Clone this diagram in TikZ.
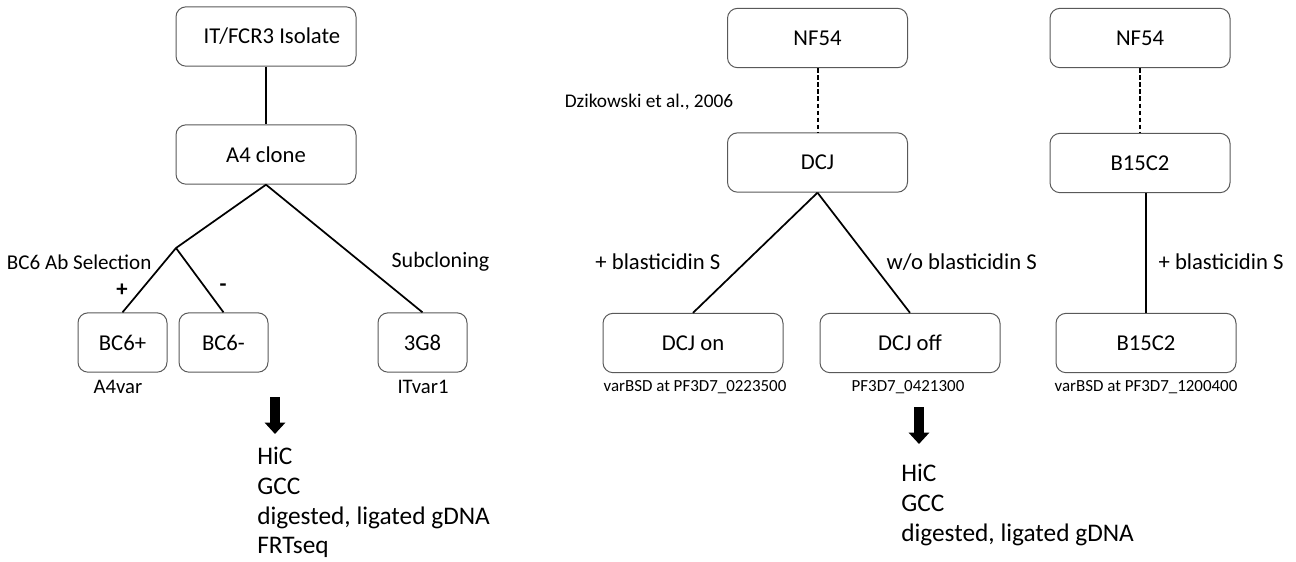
\documentclass[tikz,border=0pt]{standalone}
\usepackage{fontspec}
\setmainfont{Carlito}
\usepackage{tikz}
\usetikzlibrary{arrows.meta, positioning, calc}
\tikzset{
    auto, semithick,
    box/.style ={rectangle, rounded corners=7.5pt, draw=black!65, line width=0.75pt,
                 minimum width=135pt, minimum height=44.5pt, inner sep=2pt,
                 font=\fontsize{17}{20}\selectfont},
    smallbox/.style ={box, minimum width=66.75pt},
    el/.style = {inner sep=1pt, font=\fontsize{17}{20}\selectfont},
    note/.style = {inner sep=1pt, font=\fontsize{12.7}{15}\selectfont},
    tag/.style = {inner sep=1pt, font=\fontsize{15.5}{18}\selectfont},
    assays/.style = {inner sep=0pt, align=left, anchor=north west,
                     font=\fontsize{19}{22.3}\selectfont},
    link/.style = {line width=1.3pt},
    dashlink/.style = {line width=1.5pt, dash pattern=on 3.5pt off 1.8pt},
    bigarrow/.style = {line width=8pt, -{Triangle[length=8.5pt, width=15pt]}}
    }

\begin{document}
\begin{tikzpicture}[x=0.75pt, y=-0.75pt]
    \useasboundingbox (0,0) rectangle (1296,561);

    % A4 lineage
    \node[box] (1) at (266,36.5) {\hspace*{9pt}IT/FCR3 Isolate};
    \node[box] (2) at (266,154.5) {A4 clone};
    \coordinate (j) at (176,248);
    \node[smallbox] (3) at (122.5,342.5) {BC6+};
    \node[smallbox] (4) at (223.5,342.5) {BC6-};
    \node[smallbox] (5) at (422.5,342.5) {3G8};

    \path[link] (1) edge (2);
    \draw[link] (2.south) -- (j) -- (3.north);
    \draw[link] (j) -- (4.north);
    \draw[link] (2.south) -- (5.north);

    \node[el, anchor=east, font=\fontsize{15.8}{19}\selectfont] at (153,262) {BC6 Ab Selection};
    \node[el, anchor=west, font=\fontsize{16.5}{19}\selectfont] at (390,262) {Subcloning};
    \node[el] at (122,290) {\textbf{+}};
    \node[el] at (223,288) {\textbf{-}};
    \node[tag] at (118,387) {A4var};
    \node[tag] at (423,387) {ITvar1};

    \coordinate (a1) at (275,397);
    \coordinate (a2) at (275,434);
    \draw[bigarrow] (a1) -- (a2);
    \node[assays] (l1) at (257,447) {HiC\\GCC\\digested, ligated gDNA\\FRTseq};

    % NF54 lines
    \node[box] (6) at (817.5,38) {NF54};
    \node[box] (7) at (817.5,162.5) {DCJ};
    \node[box] (8) at (693,343) {DCJ on};
    \node[box] (9) at (910,343) {DCJ off};

    \path[dashlink] (6) edge (7);
    \draw[link] (7.south) -- (8.north);
    \draw[link] (7.south) -- (9.north);

    \node[note, font=\fontsize{14.5}{17}\selectfont] at (649,102) {Dzikowski et al., 2006};
    \node[el, anchor=east] at (722,262) {+ blasticidin S};
    \node[el, anchor=west] at (885,262) {w/o blasticidin S};
    \node[note] at (695,387) {varBSD at PF3D7\_0223500};
    \node[note] at (908,387) {PF3D7\_0421300};

    \coordinate (a3) at (919,407);
    \coordinate (a4) at (919,444);
    \draw[bigarrow] (a3) -- (a4);
    \node[assays] (l2) at (901,464) {HiC\\GCC\\digested, ligated gDNA};

    \node[box] (10) at (1140,38) {NF54};
    \node[box] (11) at (1140,163) {B15C2};
    \node[box] (12) at (1146,343) {B15C2};

    \path[dashlink] (10) edge (11);
    \draw[link] (12.north |- 11.south) -- (12.north);

    \node[el, anchor=west] at (1157,262) {+ blasticidin S};
    \node[note] at (1146,387) {varBSD at PF3D7\_1200400};

\end{tikzpicture}
\end{document}
